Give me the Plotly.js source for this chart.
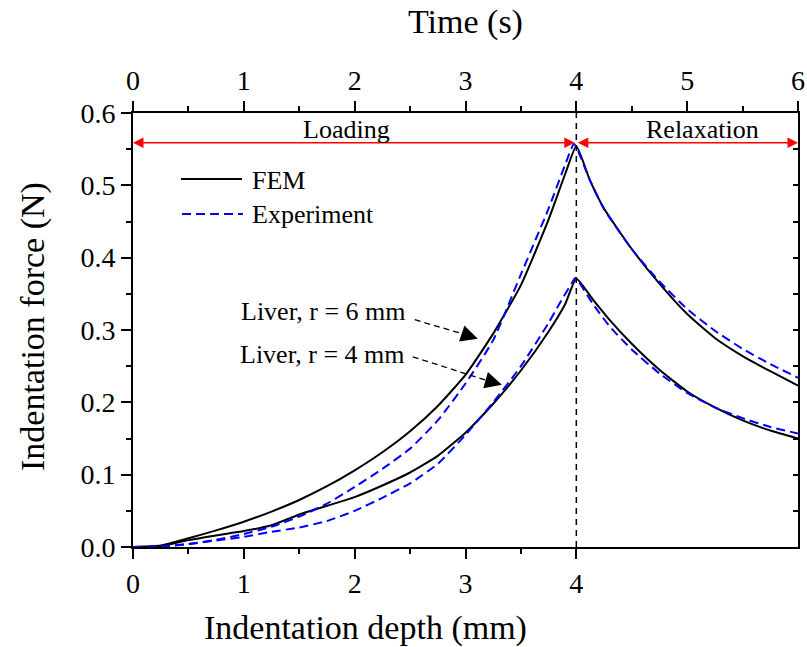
<!DOCTYPE html>
<html>
<head>
<meta charset="utf-8">
<script src="https://cdn.plot.ly/plotly-3.0.1.min.js"></script>
<style>html,body{margin:0;padding:0;background:#fff;}#chart{width:807px;height:647px;}</style>
</head>
<body>
<div id="chart"></div>
<script>
// ---- data (time in s; during loading depth in mm equals time) ----
const femR6Time  = [0,0.25,0.5,0.75,1,1.25,1.5,1.75,2,2.25,2.5,2.75,3,3.25,3.5,3.75,3.9,4,4.12,4.25,4.5,4.75,5,5.25,5.5,5.75,6];
const femR6Force = [0,0.002,0.012,0.023,0.035,0.049,0.065,0.084,0.106,0.131,0.160,0.195,0.238,0.295,0.362,0.453,0.516,0.554,0.508,0.468,0.412,0.364,0.322,0.289,0.264,0.243,0.223];

const expR6Time  = [0,0.25,0.5,0.75,1,1.25,1.5,1.75,2,2.25,2.5,2.75,3,3.25,3.5,3.75,3.9,3.98,4.12,4.25,4.5,4.75,5,5.25,5.5,5.75,6];
const expR6Force = [0,0.001,0.004,0.010,0.018,0.028,0.042,0.060,0.083,0.108,0.136,0.175,0.226,0.286,0.377,0.468,0.529,0.557,0.508,0.467,0.412,0.367,0.329,0.299,0.274,0.253,0.234];

const femR4Time  = [0,0.25,0.5,0.75,1,1.25,1.5,1.75,2,2.25,2.5,2.75,3,3.25,3.5,3.75,3.9,4,4.15,4.3,4.5,4.75,5,5.25,5.5,5.75,6];
const femR4Force = [0,0.001,0.0095,0.016,0.022,0.030,0.045,0.057,0.069,0.085,0.103,0.126,0.158,0.198,0.244,0.298,0.336,0.371,0.342,0.314,0.281,0.245,0.215,0.193,0.175,0.161,0.150];

const expR4Time  = [0,0.25,0.5,0.75,1,1.25,1.5,1.75,2,2.25,2.5,2.75,3,3.25,3.5,3.75,3.85,3.96,3.99,4.15,4.3,4.5,4.75,5,5.25,5.5,5.75,6];
const expR4Force = [0,0.0005,0.004,0.009,0.014,0.021,0.027,0.036,0.050,0.068,0.088,0.115,0.155,0.200,0.250,0.310,0.337,0.365,0.372,0.336,0.305,0.273,0.240,0.213,0.193,0.178,0.166,0.157];

const depthTicks = [0,1,2,3,4];
const depthMinorTicks = [0.5,1.5,2.5,3.5];
const timeTicks = [0,1,2,3,4,5,6];
const phaseLabels = ["Loading","Relaxation"];
const legendLabels = ["FEM","Experiment"];
const curveLabels = ["Liver, r = 6 mm","Liver, r = 4 mm"];
const axisTitles = {depth:"Indentation depth (mm)", time:"Time (s)", force:"Indentation force (N)"};

const FONT = "Liberation Serif";
const solid = {color:"#000000", width:2, shape:"spline", smoothing:0.5};
const dashed = {color:"#0000FF", width:2, dash:"9px,5px", shape:"spline", smoothing:0.5};

const traces = [
  {x:femR6Time, y:femR6Force, xaxis:"x",  yaxis:"y",  mode:"lines", line:solid,  name:"FEM r=6"},
  {x:expR6Time, y:expR6Force, xaxis:"x2", yaxis:"y",  mode:"lines", line:dashed, name:"Exp r=6"},
  {x:femR4Time, y:femR4Force, xaxis:"x",  yaxis:"y2", mode:"lines", line:solid,  name:"FEM r=4"},
  {x:expR4Time, y:expR4Force, xaxis:"x2", yaxis:"y2", mode:"lines", line:dashed, name:"Exp r=4"}
];

const axBase = {
  showgrid:false, zeroline:false, showline:true, linecolor:"#000", linewidth:2,
  tickcolor:"#000", tickwidth:2, tickfont:{family:FONT, size:28, color:"#000"}
};

// plot area in pixels: left 133, right 798, top 113, bottom 547
const PL = 133, PW = 665, PB = 547, PH = 434;
const px = v => (v - PL) / PW;
const py = v => (PB - v) / PH;

const txt = (s, size) => ({family:FONT, size:size, color:"#000"});

const layout = {
  width:807, height:647,
  margin:{l:133, r:9, t:113, b:100},
  paper_bgcolor:"#fff", plot_bgcolor:"#fff",
  showlegend:false,
  font:{family:FONT, color:"#000"},
  xaxis: Object.assign({}, axBase, {
    range:[0,6], tickmode:"array", tickvals:depthTicks, ticktext:depthTicks.map(String),
    ticks:"outside", ticklen:10,
    minor:{tickmode:"array", tickvals:depthMinorTicks, ticks:"outside", ticklen:5, tickwidth:2, tickcolor:"#000"}
  }),
  xaxis2: Object.assign({}, axBase, {
    overlaying:"x", side:"top", anchor:"y", range:[0,6],
    tickmode:"array", tickvals:timeTicks, ticktext:timeTicks.map(String),
    ticks:"outside", ticklen:10,
    minor:{dtick:0.5, tick0:0, ticks:"outside", ticklen:5, tickwidth:2, tickcolor:"#000"}
  }),
  yaxis: Object.assign({}, axBase, {
    range:[0,0.6], dtick:0.1, tick0:0, tickformat:".1f",
    ticks:"outside", ticklen:10,
    minor:{dtick:0.05, tick0:0, ticks:"outside", ticklen:5, tickwidth:2, tickcolor:"#000"}
  }),
  yaxis2: Object.assign({}, axBase, {
    overlaying:"y", side:"right", anchor:"x", range:[0,0.6], dtick:0.05, tick0:0,
    ticks:"inside", ticklen:5, showticklabels:false
  }),
  shapes:[
    {type:"line", xref:"x", yref:"y", x0:4, x1:4, y0:0, y1:0.6, line:{color:"#000", width:1.5, dash:"6px,5px"}},
    {type:"line", xref:"paper", yref:"paper", x0:px(181), x1:px(242), y0:py(179), y1:py(179), line:{color:"#000", width:2}},
    {type:"line", xref:"paper", yref:"paper", x0:px(182), x1:px(243), y0:py(214), y1:py(214), line:{color:"#0000FF", width:2, dash:"9px,5px"}},
    {type:"line", xref:"x", yref:"y", x0:2.542, y0:0.3142, x1:3.0, y1:0.2935, line:{color:"#000", width:1.3, dash:"6px,4px"}},
    {type:"line", xref:"x", yref:"y", x0:2.524, y0:0.263, x1:3.2, y1:0.2298, line:{color:"#000", width:1.3, dash:"6px,4px"}}
  ],
  annotations:[
    // axis titles
    {x:px(365), y:py(628), xref:"paper", yref:"paper", xanchor:"center", yanchor:"middle", text:axisTitles.depth, showarrow:false, font:txt(0,34)},
    {x:px(465), y:py(22), xref:"paper", yref:"paper", xanchor:"center", yanchor:"middle", text:axisTitles.time, showarrow:false, font:txt(0,34)},
    {x:px(33), y:py(327), xref:"paper", yref:"paper", xanchor:"center", yanchor:"middle", textangle:-90, text:axisTitles.force, showarrow:false, font:txt(0,34)},
    // loading / relaxation double arrows
    {x:0, y:0.559, ax:4, ay:0.559, xref:"x", yref:"y", axref:"x", ayref:"y", text:"", showarrow:true,
     arrowside:"end+start", arrowhead:2, startarrowhead:2, arrowsize:1.4, startarrowsize:1.4, arrowwidth:1.5, arrowcolor:"#FF0000"},
    {x:6, y:0.559, ax:4, ay:0.559, xref:"x", yref:"y", axref:"x", ayref:"y", text:"", showarrow:true,
     arrowside:"end+start", arrowhead:2, startarrowhead:2, arrowsize:1.4, startarrowsize:1.4, arrowwidth:1.5, arrowcolor:"#FF0000"},
    {x:1.93, y:0.577, xref:"x", yref:"y", yanchor:"middle", text:phaseLabels[0], showarrow:false, font:txt(0,26)},
    {x:5.14, y:0.577, xref:"x", yref:"y", yanchor:"middle", text:phaseLabels[1], showarrow:false, font:txt(0,26)},
    // legend text
    {x:px(250), y:py(180), xref:"paper", yref:"paper", xanchor:"left", yanchor:"middle", text:legendLabels[0], showarrow:false, font:txt(0,26)},
    {x:px(250), y:py(214), xref:"paper", yref:"paper", xanchor:"left", yanchor:"middle", text:legendLabels[1], showarrow:false, font:txt(0,26)},
    // curve labels
    {x:0.955, y:0.3257, xref:"x", yref:"y", xanchor:"left", yanchor:"middle", text:curveLabels[0], showarrow:false, font:txt(0,26)},
    {x:0.945, y:0.2657, xref:"x", yref:"y", xanchor:"left", yanchor:"middle", text:curveLabels[1], showarrow:false, font:txt(0,26)},
    // arrowheads of leader lines
    {x:3.111, y:0.2879, ax:3.0, ay:0.2935, xref:"x", yref:"y", axref:"x", ayref:"y", text:"", showarrow:true,
     arrowhead:2, arrowsize:2.6, arrowwidth:1.3, arrowcolor:"#000"},
    {x:3.328, y:0.2242, ax:3.2, ay:0.2298, xref:"x", yref:"y", axref:"x", ayref:"y", text:"", showarrow:true,
     arrowhead:2, arrowsize:2.6, arrowwidth:1.3, arrowcolor:"#000"}
  ]
};

Plotly.newPlot("chart", traces, layout, {staticPlot:true, displayModeBar:false});
</script>
</body>
</html>
